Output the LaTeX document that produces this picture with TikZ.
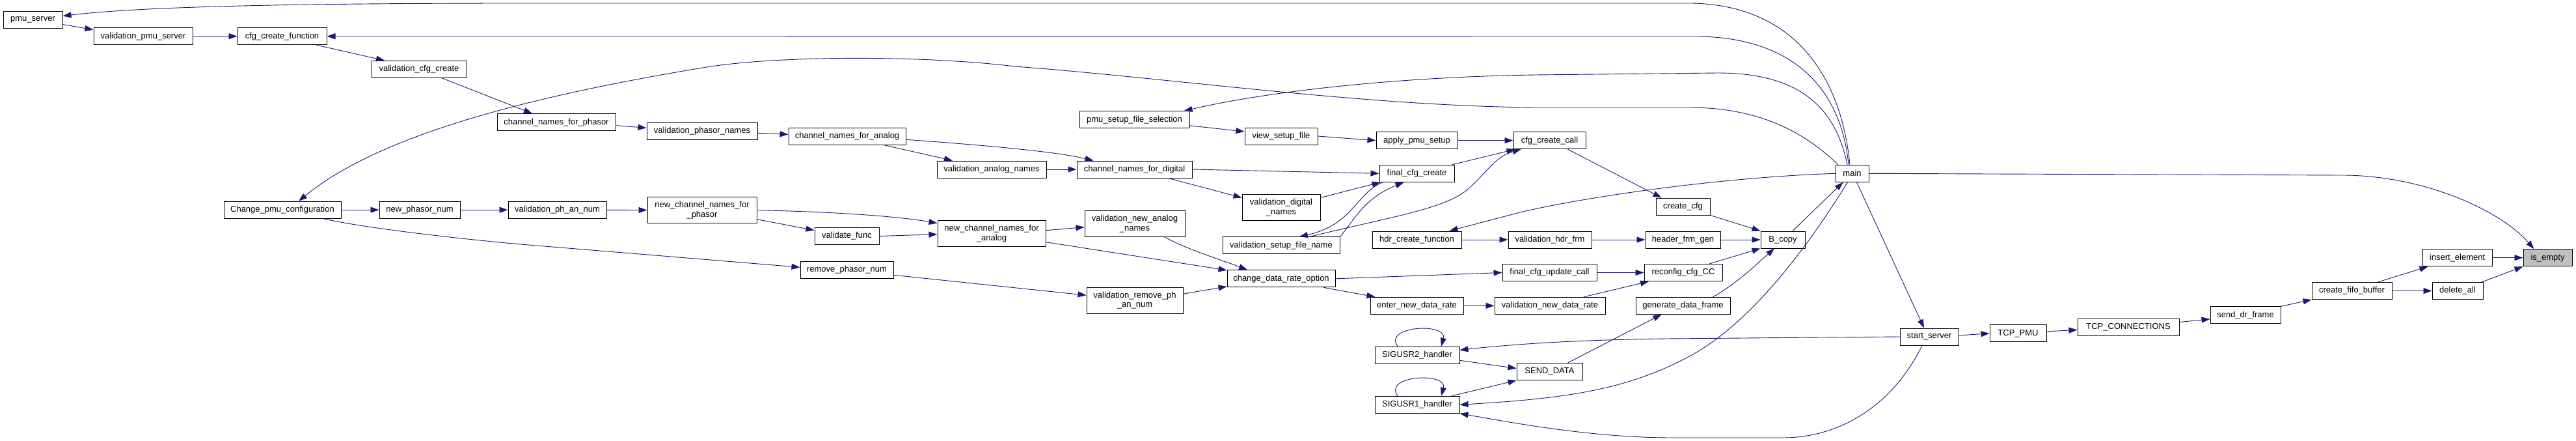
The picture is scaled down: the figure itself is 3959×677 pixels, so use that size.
\documentclass[tikz,border=0pt]{standalone}
\usepackage{fontspec}
\setmainfont{Liberation Sans}
\usetikzlibrary{arrows.meta}
\definecolor{edgeblue}{HTML}{191970}
\definecolor{nodegray}{HTML}{BFBFBF}
\tikzset{
 fn/.style={draw=black, line width=1pt, fill=white, rectangle, inner sep=0pt, minimum height=26pt, font=\fontsize{13pt}{14.5pt}\selectfont, align=center},
 fntwo/.style={fn, minimum height=40pt},
 cur/.style={fn, fill=nodegray},
 edge/.style={draw=edgeblue, line width=0.9pt, -{Triangle[length=13pt,width=9pt]}},
}
\begin{document}
\begin{tikzpicture}[x=1pt,y=-1pt]
\path[use as bounding box, fill=white] (0,0) rectangle (3959,677);
% nodes
\node[fn, minimum width=91pt] (psrv) at (50.5,30.5) {pmu\_server};
\node[fn, minimum width=152pt] (vps) at (220,55.7) {validation\_pmu\_server};
\node[fn, minimum width=137pt] (ccf) at (433.5,55.7) {cfg\_create\_function};
\node[fn, minimum width=146pt] (vcc) at (644,106.3) {validation\_cfg\_create};
\node[fn, minimum width=182pt] (cnph) at (855,187.7) {channel\_names\_for\_phasor};
\node[fn, minimum width=170pt] (vpn) at (1079,201.3) {validation\_phasor\_names};
\node[fn, minimum width=180pt] (cnan) at (1302,209.3) {channel\_names\_for\_analog};
\node[fn, minimum width=168pt] (van) at (1524,260) {validation\_analog\_names};
\node[fn, minimum width=177pt] (cndg) at (1743.5,260) {channel\_names\_for\_digital};
\node[fn, minimum width=169pt] (psfs) at (1743.5,183.8) {pmu\_setup\_file\_selection};
\node[fn, minimum width=112pt] (vsf) at (1969,209) {view\_setup\_file};
\node[fn, minimum width=125pt] (aps) at (2177.5,215.7) {apply\_pmu\_setup};
\node[fn, minimum width=111pt] (ccc) at (2381.5,215.7) {cfg\_create\_call};
\node[fn, minimum width=115pt] (fcc) at (2177.5,266.3) {final\_cfg\_create};
\node[fntwo, minimum width=120pt] (vdn) at (1969,318.5) {validation\_digital\\\_names};
\node[fn, minimum width=180pt] (vsfn) at (1969,376.8) {validation\_setup\_file\_name};
\node[fn, minimum width=137pt] (hcf) at (2177.5,368) {hdr\_create\_function};
\node[fn, minimum width=128pt] (vhf) at (2382,368) {validation\_hdr\_frm};
\node[fn, minimum width=115pt] (hfg) at (2586.5,368) {header\_frm\_gen};
\node[fn, minimum width=68pt] (bcopy) at (2740,368) {B\_copy};
\node[fn, minimum width=83pt] (ccfg) at (2586.5,317) {create\_cfg};
\node[fn, minimum width=51pt] (main) at (2846.5,266.3) {main};
\node[fn, minimum width=180pt] (cpc) at (434,322.2) {Change\_pmu\_configuration};
\node[fn, minimum width=124pt] (npn) at (645,322.2) {new\_phasor\_num};
\node[fn, minimum width=151pt] (vpan) at (856.5,322.2) {validation\_ph\_an\_num};
\node[fntwo, minimum width=168pt] (ncph) at (1079,322.7) {new\_channel\_names\_for\\\_phasor};
\node[fn, minimum width=99pt] (vf) at (1301.5,362.5) {validate\_func};
\node[fntwo, minimum width=166pt] (ncan) at (1524,358.7) {new\_channel\_names\_for\\\_analog};
\node[fn, minimum width=143pt] (rpn) at (1301.5,414.3) {remove\_phasor\_num};
\node[fntwo, minimum width=154pt] (vnan) at (1744,343.7) {validation\_new\_analog\\\_names};
\node[fntwo, minimum width=148pt] (vrpan) at (1744,461.2) {validation\_remove\_ph\\\_an\_num};
\node[fn, minimum width=166pt] (cdro) at (1969,427.8) {change\_data\_rate\_option};
\node[fn, minimum width=145pt] (fcuc) at (2381.5,418.5) {final\_cfg\_update\_call};
\node[fn, minimum width=120pt] (rcc) at (2587,418.5) {reconfig\_cfg\_CC};
\node[fn, minimum width=143pt] (endr) at (2177.5,469.3) {enter\_new\_data\_rate};
\node[fn, minimum width=170pt] (vndr) at (2382,469.3) {validation\_new\_data\_rate};
\node[fn, minimum width=145pt] (gdf) at (2586.5,469.3) {generate\_data\_frame};
\node[fn, minimum width=130pt] (s2) at (2178,545.3) {SIGUSR2\_handler};
\node[fn, minimum width=101pt] (sd) at (2381.5,570.5) {SEND\_DATA};
\node[fn, minimum width=130pt] (s1) at (2178,621.3) {SIGUSR1\_handler};
\node[fn, minimum width=90pt] (ss) at (2965,517) {start\_server};
\node[fn, minimum width=87pt] (tpmu) at (3101.5,511.8) {TCP\_PMU};
\node[fn, minimum width=156pt] (tcpc) at (3271,502.5) {TCP\_CONNECTIONS};
\node[fn, minimum width=108pt] (sdf) at (3451,483.8) {send\_dr\_frame};
\node[fn, minimum width=123pt] (cfb) at (3614.5,446.5) {create\_fifo\_buffer};
\node[fn, minimum width=107pt] (ie) at (3776.5,395.7) {insert\_element};
\node[fn, minimum width=78pt] (da) at (3777,446.5) {delete\_all};
\node[cur, minimum width=75pt] (ise) at (3915.5,395.7) {is\_empty};
% edges
\draw[edge] ([xshift=-3.5pt]main.north) .. controls (2830,120) and (2760,8) .. (2600,5) -- (800,5) .. controls (400,5) and (200,12) .. ([yshift=6pt]psrv.east);
\draw[edge] ([yshift=-7pt]psrv.east) -- ([yshift=10pt]vps.west);
\draw[edge] (vps) -- (ccf);
\draw[edge] ([xshift=-5.5pt]main.north) .. controls (2830,140) and (2760,58) .. (2610,56) -- (ccf.east);
\draw[edge] ([xshift=53pt]ccf.south) -- ([xshift=-53pt]vcc.north);
\draw[edge] ([xshift=35pt]vcc.south) -- ([xshift=-37pt]cnph.north);
\draw[edge] ([xshift=-21.5pt]main.north) .. controls (2770,200) and (2700,165) .. (2595,165) -- (2360,165) .. controls (2100,163) and (1800,120) .. (1560,102) .. controls (1420,85) and (1200,85) .. (1086,103) .. controls (800,150) and (580,210) .. ([xshift=25pt]cpc.north);
\draw[edge] ([xshift=-7.5pt]main.north) .. controls (2820,160) and (2760,112) .. (2640,112) -- (2360,115) .. controls (2150,118) and (1950,140) .. ([xshift=76pt]psfs.north);
\draw[edge] (cpc) -- (npn);
\draw[edge] (npn) -- (vpan);
\draw[edge] (vpan) -- (ncph);
\draw[edge] (ncph.east) .. controls (1280,325) and (1380,332) .. ([yshift=16pt]ncan.west);
\draw[edge] ([yshift=-14pt]ncph.east) -- ([yshift=9pt]vf.west);
\draw[edge] (vf.east) -- ([yshift=-1pt]ncan.west);
\draw[edge] ([xshift=63pt]cpc.south) .. controls (560,350) and (700,366) .. (800,375) -- ([yshift=4pt]rpn.west);
\draw[edge] ([yshift=-8pt]rpn.east) -- ([yshift=8pt]vrpan.west);
\draw[edge] ([yshift=10pt]vrpan.east) -- ([yshift=-12pt]cdro.west);
\draw[edge] ([yshift=-13pt]ncan.east) -- ([yshift=13pt]cdro.west);
\draw[edge] ([yshift=5pt]ncan.east) -- ([yshift=-5pt]vnan.west);
\draw[edge] ([xshift=46pt]vnan.south) .. controls (1830,385) and (1880,400) .. ([xshift=-52pt]cdro.north);
\draw[edge] ([yshift=-5pt]cnph.east) -- ([yshift=5pt]vpn.west);
\draw[edge] ([yshift=-3pt]vpn.east) -- ([yshift=3pt]cnan.west);
\draw[edge] ([xshift=57pt]cnan.south) -- ([xshift=-60pt]van.north);
\draw[edge] ([yshift=-5pt]cnan.east) .. controls (1500,222) and (1620,232) .. ([xshift=-63pt]cndg.north);
\draw[edge] (van) -- (cndg);
\draw[edge] (cndg.east) -- (fcc.west);
\draw[edge] ([xshift=52pt]cndg.south) -- ([yshift=15pt]vdn.west);
\draw[edge] ([yshift=15pt]vdn.east) -- ([xshift=-56pt]fcc.south);
\draw[edge] (vsfn.north east) .. controls (2080,340) and (2095,305) .. ([xshift=-20pt]fcc.south);
\draw[edge] ([xshift=-52pt]fcc.south) .. controls (2085,295) and (2080,345) .. ([xshift=28pt]vsfn.north);
\draw[edge] ([xshift=44pt]vsfn.north) .. controls (2150,330) and (2225,320) .. (2260,287) .. controls (2290,258) and (2300,240) .. ([xshift=12pt]ccc.south west);
\draw[edge] ([xshift=54pt]fcc.north) -- ([xshift=3pt]ccc.south west);
\draw[edge] ([yshift=-9pt]psfs.east) -- ([yshift=7pt]vsf.west);
\draw[edge] (vsf.east) -- (aps.west);
\draw[edge] (aps) -- (ccc);
\draw[edge] ([xshift=28pt]ccc.south) -- ([xshift=-33pt]ccfg.north);
\draw[edge] (ccfg.south east) -- (bcopy.north west);
\draw[edge] (main.west) .. controls (2650,272) and (2450,300) .. (2340,325) -- ([xshift=50pt]hcf.north);
\draw[edge] (hcf) -- (vhf);
\draw[edge] (vhf) -- (hfg);
\draw[edge] (hfg) -- (bcopy);
\draw[edge] ([xshift=15pt]bcopy.north) -- ([xshift=-14pt]main.south);
\draw[edge] (cdro.east) -- (fcuc.west);
\draw[edge] ([xshift=65pt]cdro.south) -- ([xshift=-64pt]endr.north);
\draw[edge] (endr) -- (vndr);
\draw[edge] (fcuc) -- (rcc);
\draw[edge] ([xshift=52pt]vndr.north) -- ([xshift=-53pt]rcc.south);
\draw[edge] ([xshift=40pt]rcc.north) -- (bcopy.south west);
\draw[edge] ([xshift=46pt]gdf.north) .. controls (2670,435) and (2700,405) .. ([xshift=-13pt]bcopy.south);
\draw[edge] ([xshift=28pt]sd.north) -- ([xshift=-33pt]gdf.south);
\draw[edge] ([yshift=-8pt]s2.east) -- ([yshift=5pt]sd.west);
\draw[edge] ([xshift=53pt]s1.north) -- (sd.south west);
\draw[edge] ([xshift=-30pt]s2.north) .. controls (2125,500) and (2225,495) .. ([xshift=37pt]s2.north);
\draw[edge] ([xshift=-30pt]s1.north) .. controls (2125,576) and (2225,571) .. ([xshift=37pt]s1.north);
\draw[edge] (ss.west) -- (2560,520) .. controls (2420,522) and (2330,528) .. ([yshift=8pt]s2.east);
\draw[edge] ([xshift=-11pt]ss.south) .. controls (2910,620) and (2830,672) .. (2740,672) -- (2570,672) .. controls (2450,672) and (2330,650) .. (s1.south east);
\draw[edge] ([xshift=-7pt]main.south) .. controls (2790,360) and (2700,490) .. (2600,545) .. controls (2500,600) and (2400,612) .. (s1.east);
\draw[edge] ([xshift=7pt]main.south) -- ([xshift=-8pt]ss.north);
\draw[edge] ([yshift=2pt]ss.east) -- (tpmu.west);
\draw[edge] ([yshift=3pt]tpmu.east) -- ([yshift=-4pt]tcpc.west);
\draw[edge] ([yshift=8pt]tcpc.east) -- ([yshift=-6pt]sdf.west);
\draw[edge] (sdf.north east) -- (cfb.south west);
\draw[edge] ([xshift=40pt]cfb.north) -- ([xshift=-45pt]ie.south);
\draw[edge] (cfb) -- (da);
\draw[edge] (ie) -- (ise);
\draw[edge] ([xshift=37pt]da.north) -- (ise.south west);
\draw[edge] (main.east) -- (3600,269) .. controls (3720,269) and (3840,320) .. ([xshift=-21pt]ise.north);
\end{tikzpicture}
\end{document}
